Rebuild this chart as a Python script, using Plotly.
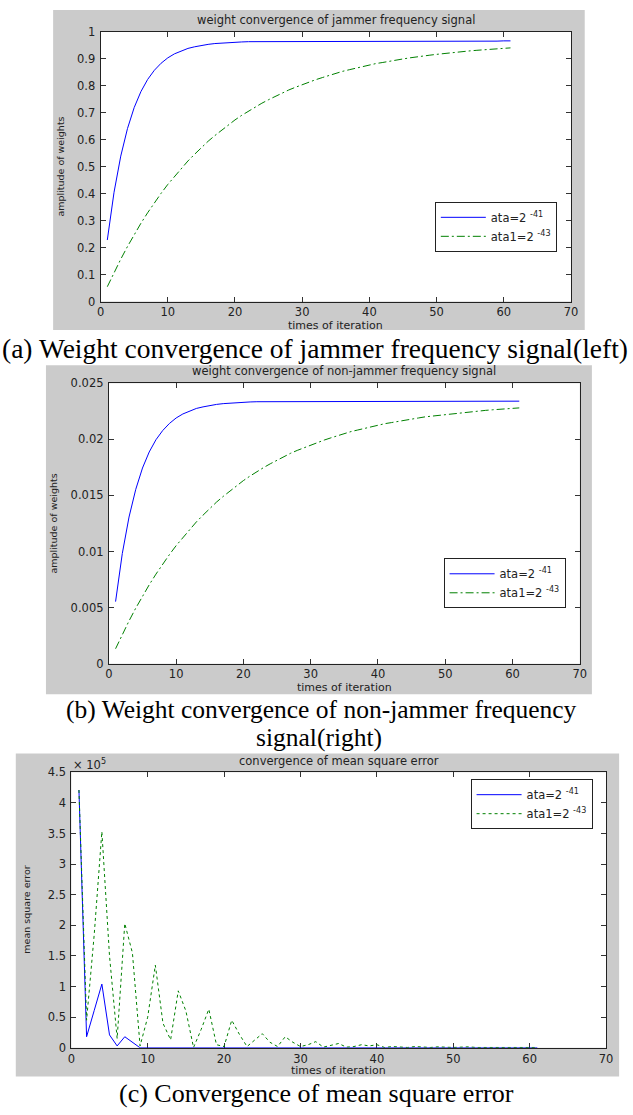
import plotly.graph_objects as go

W, H = 633, 1115

# ---------------- data ----------------
iterations = list(range(1, 62))

jam_ata41 = [0.228, 0.405, 0.539, 0.641, 0.719, 0.778, 0.823, 0.857, 0.883, 0.903,
             0.918, 0.929, 0.938, 0.944, 0.949, 0.953, 0.956, 0.958, 0.960, 0.961,
             0.962, 0.963, 0.963, 0.964, 0.964, 0.964, 0.964, 0.964, 0.965, 0.965,
             0.965, 0.964, 0.963, 0.964, 0.965, 0.965, 0.965, 0.965, 0.965, 0.965,
             0.965, 0.965, 0.964, 0.964, 0.965, 0.965, 0.965, 0.965, 0.965, 0.965,
             0.965, 0.965, 0.965, 0.965, 0.965, 0.965, 0.965, 0.965, 0.965, 0.966, 0.966]
jam_ata43 = [0.055, 0.108, 0.157, 0.204, 0.248, 0.290, 0.329, 0.366, 0.401, 0.434,
             0.464, 0.493, 0.521, 0.546, 0.571, 0.594, 0.615, 0.635, 0.655, 0.673,
             0.690, 0.706, 0.721, 0.735, 0.748, 0.761, 0.773, 0.784, 0.794, 0.804,
             0.814, 0.822, 0.830, 0.838, 0.846, 0.853, 0.859, 0.865, 0.871, 0.876,
             0.882, 0.886, 0.891, 0.895, 0.899, 0.903, 0.907, 0.910, 0.913, 0.916,
             0.919, 0.922, 0.924, 0.927, 0.929, 0.931, 0.933, 0.935, 0.936, 0.938, 0.940]

non_ata41 = [0.00553, 0.00982, 0.01307, 0.01554, 0.01744, 0.01887, 0.01996, 0.02078, 0.02141, 0.02190,
             0.02226, 0.02253, 0.02275, 0.02289, 0.02301, 0.02311, 0.02318, 0.02323, 0.02328, 0.02330,
             0.02333, 0.02335, 0.02335, 0.02338, 0.02338, 0.02339, 0.02339, 0.02339, 0.02340, 0.02340,
             0.02340, 0.02340, 0.02340, 0.02340, 0.02340, 0.02340, 0.02340, 0.02340, 0.02340, 0.02340,
             0.02340, 0.02340, 0.02340, 0.02340, 0.02340, 0.02340, 0.02340, 0.02340, 0.02340, 0.02340,
             0.02340, 0.02340, 0.02340, 0.02340, 0.02340, 0.02340, 0.02340, 0.02340, 0.02340, 0.02340, 0.02340]
non_ata43 = [0.00133, 0.00262, 0.00381, 0.00495, 0.00601, 0.00703, 0.00798, 0.00888, 0.00972, 0.01052,
             0.01125, 0.01196, 0.01263, 0.01324, 0.01385, 0.01440, 0.01491, 0.01540, 0.01588, 0.01632,
             0.01673, 0.01712, 0.01748, 0.01782, 0.01814, 0.01845, 0.01875, 0.01901, 0.01925, 0.01950,
             0.01974, 0.01993, 0.02013, 0.02032, 0.02052, 0.02069, 0.02083, 0.02098, 0.02112, 0.02124,
             0.02139, 0.02149, 0.02161, 0.02170, 0.02180, 0.02190, 0.02200, 0.02207, 0.02214, 0.02221,
             0.02229, 0.02236, 0.02241, 0.02248, 0.02253, 0.02258, 0.02263, 0.02267, 0.02270, 0.02275, 0.02280]

mse_ata41 = [421000, 18000, 61000, 104000, 21000, 3000, 18000, 9000, 0, 0,
             0, 0, 0, 0, 0, 0, 0, 0, 0, 0,
             0, 0, 0, 0, 0, 0, 0, 0, 0, 0,
             0, 0, 0, 0, 0, 0, 0, 0, 0, 0,
             0, 0, 0, 0, 0, 0, 0, 0, 0, 0,
             0, 0, 0, 0, 0, 0, 0, 0, 0, 0, 0]
mse_ata43 = [421000, 45000, 185000, 353000, 150000, 15000, 203000, 155000, 3000, 50000,
             135000, 40000, 13000, 93000, 60000, 500, 30000, 63000, 5000, 2000,
             45000, 22000, 2000, 13000, 23000, 9000, 2000, 18000, 9000, 2000,
             5000, 10000, 1000, 4000, 7000, 1000, 2000, 5000, 3000, 5000,
             500, 2000, 1000, 500, 2000, 1000, 500, 1500, 500, 500,
             1000, 1500, 500, 500, 1000, 300, 500, 800, 300, 400, 500]

x_ticks = [0, 10, 20, 30, 40, 50, 60, 70]
jam_yticks = [0, 0.1, 0.2, 0.3, 0.4, 0.5, 0.6, 0.7, 0.8, 0.9, 1]
jam_yticklabels = ["0", "0.1", "0.2", "0.3", "0.4", "0.5", "0.6", "0.7", "0.8", "0.9", "1"]
non_yticks = [0, 0.005, 0.01, 0.015, 0.02, 0.025]
non_yticklabels = ["0", "0.005", "0.01", "0.015", "0.02", "0.025"]
mse_yticks = [0, 50000, 100000, 150000, 200000, 250000, 300000, 350000, 400000, 450000]
mse_yticklabels = ["0", "0.5", "1", "1.5", "2", "2.5", "3", "3.5", "4", "4.5"]

series_names = ["ata=2 <sup>-41</sup>", "ata1=2 <sup>-43</sup>"]
panel_titles = ["weight convergence of jammer frequency signal",
                "weight convergence of non-jammer frequency signal",
                "convergence of mean square error"]
y_titles = ["amplitude of weights", "amplitude of weights", "mean square error"]
x_title = "times of iteration"
captions = ["(a) Weight convergence of jammer frequency signal(left)",
            "(b) Weight convergence of non-jammer frequency",
            "signal(right)",
            "(c) Convergence of mean square error"]

# ---------------- layout helpers (pixel -> paper) ----------------
def px(x):
    return x / W


def py(y):
    return 1 - y / H


SANS = "DejaVu Sans"
SERIF = "Liberation Serif"
TXT = "#222222"
BLUE = "rgb(0,0,255)"
GREEN = "rgb(0,128,0)"
GRAY = "#cbcbcb"

panels = [
    dict(gray=(50, 3, 591, 327), ax=(98.3, 25, 577, 298.3), title_y=13.5, xt_y=323, yt_x=58,
         leg=(562.6, 197.3), ys=jam_ata41, yd=jam_ata43, yticks=jam_yticks, ylabels=jam_yticklabels,
         yrange=[0, 1], dash="8px,3px,2px,3px"),
    dict(gray=(42.7, 362.7, 598.3, 696), ax=(106.7, 381, 586, 665), title_y=368.5, xt_y=689, yt_x=50,
         leg=(571.5, 558.3), ys=non_ata41, yd=non_ata43, yticks=non_yticks, ylabels=non_yticklabels,
         yrange=[0, 0.025], dash="8px,3px,2px,3px"),
    dict(gray=(12, 756, 626, 1083), ax=(68.5, 775, 612.7, 1054), title_y=763.5, xt_y=1077.5, yt_x=22,
         leg=(599, 782), ys=mse_ata41, yd=mse_ata43, yticks=mse_yticks, ylabels=mse_yticklabels,
         yrange=[0, 450000], dash="3px,3px"),
]

fig = go.Figure()
shapes = []
annotations = []
layout_axes = {}

for i, p in enumerate(panels):
    n = "" if i == 0 else str(i + 1)
    xa, ya = "x" + n, "y" + n
    leg = "legend" + n
    fig.add_trace(go.Scatter(x=iterations, y=p["ys"], mode="lines", name=series_names[0],
                             line=dict(color=BLUE, width=1), xaxis=xa, yaxis=ya, legend=leg))
    fig.add_trace(go.Scatter(x=iterations, y=p["yd"], mode="lines", name=series_names[1],
                             line=dict(color=GREEN, width=1, dash=p["dash"]),
                             xaxis=xa, yaxis=ya, legend=leg))

    gx0, gy0, gx1, gy1 = p["gray"]
    ax0, ay0, ax1, ay1 = p["ax"]
    shapes.append(dict(type="rect", xref="paper", yref="paper", layer="below",
                       x0=px(gx0), x1=px(gx1), y0=py(gy1), y1=py(gy0),
                       fillcolor=GRAY, line=dict(width=0)))
    shapes.append(dict(type="rect", xref="paper", yref="paper", layer="below",
                       x0=px(ax0), x1=px(ax1), y0=py(ay1), y1=py(ay0),
                       fillcolor="white", line=dict(width=0)))

    common = dict(ticks="inside", ticklen=5, tickwidth=1, tickcolor="#333333",
                  showline=True, linecolor=TXT, linewidth=1, mirror="ticks",
                  showgrid=False, zeroline=False,
                  tickfont=dict(family=SANS, size=11.5, color=TXT))
    layout_axes["xaxis" + n] = dict(common, domain=[px(ax0), px(ax1)], range=[0, 70],
                                    tickmode="array", tickvals=x_ticks, anchor=ya,
                                    layer="below traces")
    layout_axes["yaxis" + n] = dict(common, domain=[py(ay1), py(ay0)], range=p["yrange"],
                                    tickmode="array", tickvals=p["yticks"], ticktext=p["ylabels"],
                                    anchor=xa, ticklabelstandoff=2)

    cx = (ax0 + ax1) / 2
    annotations.append(dict(text=panel_titles[i], x=px(cx), y=py(p["title_y"]), xref="paper", yref="paper",
                            xanchor="center", yanchor="middle", showarrow=False,
                            font=dict(family=SANS, size=11.5, color=TXT)))
    annotations.append(dict(text=x_title, x=px(cx), y=py(p["xt_y"]), xref="paper", yref="paper",
                            xanchor="center", yanchor="middle", showarrow=False,
                            font=dict(family=SANS, size=11, color=TXT)))
    annotations.append(dict(text=y_titles[i], x=px(p["yt_x"]), y=py((ay0 + ay1) / 2), xref="paper",
                            yref="paper", xanchor="center", yanchor="middle", showarrow=False,
                            textangle=-90, font=dict(family=SANS, size=9.5, color=TXT)))

    lx, ly = p["leg"]
    layout_axes[leg] = dict(x=px(lx), y=py(ly), xanchor="right", yanchor="top",
                            bgcolor="white", bordercolor=TXT, borderwidth=1,
                            font=dict(family=SANS, size=11.5, color=TXT),
                            itemwidth=45, tracegroupgap=0)

# multiplier label for MSE axis
annotations.append(dict(text="× 10<sup>5</sup>", x=px(68), y=py(767), xref="paper", yref="paper",
                        xanchor="left", yanchor="middle", showarrow=False,
                        font=dict(family=SANS, size=11.5, color=TXT)))

# captions
cap_pos = [(316, 346, 27.5), (323, 711, 25.5), (321, 740, 25.5), (318, 1100, 26)]
for text, (cx, cy, fs) in zip(captions, cap_pos):
    annotations.append(dict(text=text, x=px(cx), y=py(cy), xref="paper", yref="paper",
                            xanchor="center", yanchor="middle", showarrow=False,
                            font=dict(family=SERIF, size=fs, color="black")))

fig.update_layout(
    width=W, height=H, margin=dict(l=0, r=0, t=0, b=0),
    paper_bgcolor="white", plot_bgcolor="rgba(0,0,0,0)",
    shapes=shapes, annotations=annotations, showlegend=True,
    **layout_axes,
)

fig.write_html("out.html", config={"displayModeBar": False},
               post_script="document.body.style.margin='0px';document.body.style.overflow='hidden';")
